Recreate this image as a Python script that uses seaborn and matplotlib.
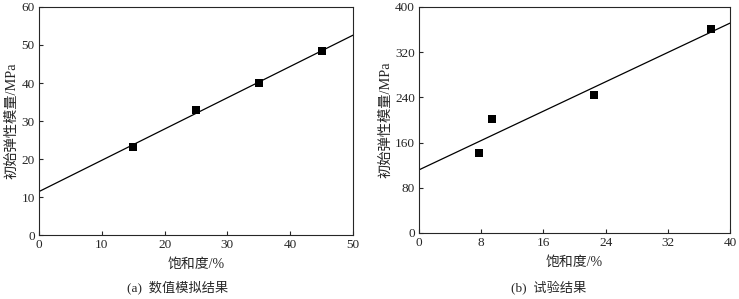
import numpy as np
import pandas as pd
import matplotlib
matplotlib.use('Agg')
import matplotlib.pyplot as plt
import seaborn as sns

# (a) 数值模拟结果
sat_a = [15, 25, 35, 45]
mod_a = [23.2, 33.0, 40.0, 48.3]
# (b) 试验结果
sat_b = [7.7, 9.4, 22.5, 37.6]
mod_b = [141, 202, 244, 361]

xlabel = '饱和度/%'
ylabel = '初始弹性模量/MPa'
captions = ['(a)  数值模拟结果', '(b)  试验结果']

sns.set_style('ticks')
plt.rcParams['font.family'] = ['Liberation Serif', 'Noto Sans CJK SC']
plt.rcParams['axes.unicode_minus'] = False

fig = plt.figure(figsize=(7.39, 2.99), dpi=100)
ax1 = fig.add_axes([0.0528, 0.214, 0.4249, 0.7626])
ax2 = fig.add_axes([0.567, 0.221, 0.4208, 0.7556])

panels = [
    (ax1, sat_a, mod_a, (0, 50), (0, 60), np.arange(0, 51, 10), np.arange(0, 61, 10)),
    (ax2, sat_b, mod_b, (0, 40), (0, 400), np.arange(0, 41, 8), np.arange(0, 401, 80)),
]

for ax, x, y, xl, yl, xt, yt in panels:
    df = pd.DataFrame({'x': x, 'y': y})
    ax.set_xlim(xl)
    ax.set_ylim(yl)
    # 회귀선은 축 끝까지
    sns.regplot(data=df, x='x', y='y', ax=ax, ci=None, truncate=False,
                marker='s', color='black',
                scatter_kws={'s': 40, 'zorder': 3, 'linewidths': 0, 'alpha': 1},
                line_kws={'lw': 0.9})
    ax.set_xlim(xl)
    ax.set_ylim(yl)
    ax.set_xticks(xt)
    ax.set_yticks(yt)
    ax.set_xlabel(xlabel, fontsize=10, labelpad=5)
    ax.set_ylabel(ylabel, fontsize=10.3, labelpad=2)
    ax.tick_params(direction='in', length=3, width=0.8, labelsize=9.5, pad=3)
    for s in ax.spines.values():
        s.set_visible(True)
        s.set_linewidth(0.8)

fig.text(0.24, 0.04, captions[0], ha='center', va='center', fontsize=9.5)
fig.text(0.742, 0.04, captions[1], ha='center', va='center', fontsize=9.5)

fig.savefig('out.png', dpi=100)
